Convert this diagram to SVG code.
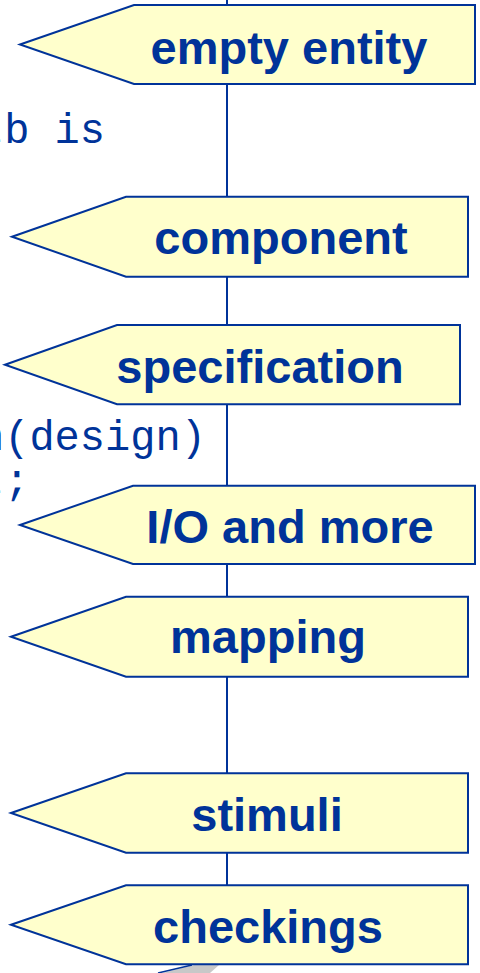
<svg xmlns="http://www.w3.org/2000/svg" width="480" height="973" viewBox="0 0 480 973">
  <style>
    .tag { fill: #FFFFCC; stroke: #003399; stroke-width: 2; stroke-linejoin: miter; }
    .lbl { font-family: "Liberation Sans", Arial, sans-serif; font-weight: bold; font-size: 47px; fill: #003399; text-anchor: middle; }
    .code { font-family: "Liberation Mono", "Courier New", monospace; font-size: 42px; fill: #003399; }
    .spine { stroke: #003399; stroke-width: 2; fill: none; }
  </style>
  <rect width="480" height="973" fill="#FFFFFF"/>

  <!-- source code fragments on the left -->
  <g id="code">
    <text class="code" x="-21" y="143">tb is</text>
    <text class="code" x="-21" y="450">n(design)</text>
    <text class="code" x="-21" y="494">t;</text>
  </g>

  <!-- vertical spine joining the tags -->
  <g id="connectors">
    <line class="spine" x1="227" y1="0" x2="227" y2="925"/>
  </g>

  <!-- grey pointer at the bottom edge -->
  <g id="pointer">
    <polygon points="162,973 194,965 219,965 210,973" fill="#C8C8C8"/>
    <line x1="158" y1="973" x2="192" y2="965" stroke="#003399" stroke-width="1.5"/>
  </g>

  <g id="tag-empty-entity">
    <polygon class="tag" points="20,44.5 134,5 475,5 475,84 134,84"/>
    <text class="lbl" x="289" y="64">empty entity</text>
  </g>

  <g id="tag-component">
    <polygon class="tag" points="12,236.7 126,196.7 468,196.7 468,276.7 126,276.7"/>
    <text class="lbl" x="281" y="254">component</text>
  </g>

  <g id="tag-specification">
    <polygon class="tag" points="5,364.7 117,325 460,325 460,404.3 117,404.3"/>
    <text class="lbl" x="260" y="383">specification</text>
  </g>

  <g id="tag-io">
    <polygon class="tag" points="20,525 133,485.7 475,485.7 475,564 133,564"/>
    <text class="lbl" x="290" y="543">I/O and more</text>
  </g>

  <g id="tag-mapping">
    <polygon class="tag" points="11,636.7 126,596.7 468,596.7 468,676.7 126,676.7"/>
    <text class="lbl" x="268" y="653">mapping</text>
  </g>

  <g id="tag-stimuli">
    <polygon class="tag" points="11,813 126,773.3 468,773.3 468,852.7 126,852.7"/>
    <text class="lbl" x="267" y="831">stimuli</text>
  </g>

  <g id="tag-checkings">
    <polygon class="tag" points="11,924.8 126,885.3 468,885.3 468,964.3 126,964.3"/>
    <text class="lbl" x="268" y="943">checkings</text>
  </g>
</svg>
